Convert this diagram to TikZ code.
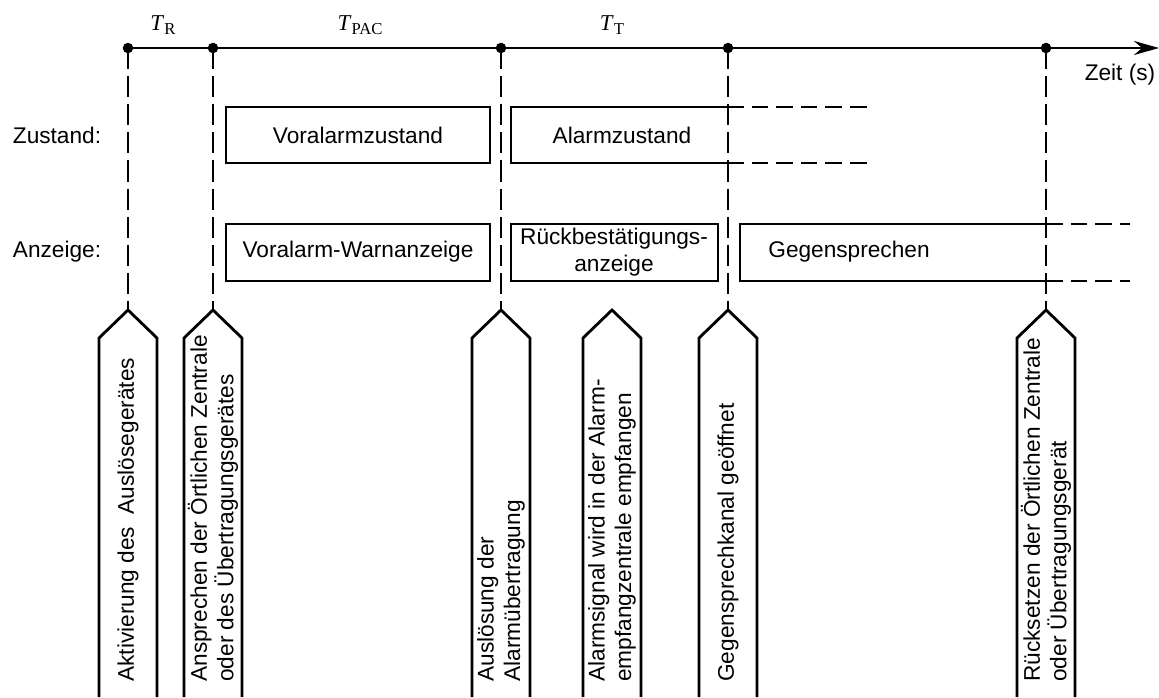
\documentclass[tikz,border=0pt]{standalone}
\usepackage{fontspec}
\setmainfont{Liberation Sans}
\newfontfamily\seriffont{Liberation Serif}
\usetikzlibrary{arrows.meta}
\newcommand{\tsym}[1]{{\seriffont\textit{T}\raisebox{-0.45ex}{\fontsize{9.5}{9.5}\selectfont #1}}}
\tikzset{
	box/.style={line width=1.6pt},
	openend/.style={line width=1.6pt, dash pattern=on 9.5pt off 4.5pt},
	guide/.style={line width=1.2pt, dash pattern=on 12pt off 4pt},
	tag/.style={rotate=90, anchor=west, align=left, inner sep=0pt},
}
\begin{document}
\begin{tikzpicture}[x=0.02cm, y=-0.02cm, font=\fontsize{12.9}{15}\selectfont, line join=miter]
		\useasboundingbox (0,0) rectangle (1159,697);
		% time axis
		\coordinate (t1) at (128,48);
		\coordinate (t2) at (213,48);
		\coordinate (t3) at (501,48);
		\coordinate (t4) at (728,48);
		\coordinate (t5) at (1046,48);
		\draw[box, -{Stealth[length=5mm, width=2.8mm]}] (t1) -- (1159,48);
		\foreach \i in {1,...,5} \fill (t\i) circle (3pt);
		\node (tr) at (163,25) {\tsym{R}};
		\node (tpac) at (360,25) {\tsym{PAC}};
		\node (tt) at (612,25) {\tsym{T}};
		\node (zeit) at (1120,75) {Zeit (s)};
		% rows
		\node (zst) at (57,135) {Zustand:};
		\node (anz) at (57,252) {Anzeige:};
		\draw[box] (226,107) rectangle (490,163);
		\node (vz) at (358,135) {Voralarmzustand};
		\draw[box] (727,107) -- (511,107) -- (511,163) -- (727,163);
		\draw[openend] (727,107) -- (870,107);
		\draw[openend] (727,163) -- (870,163);
		\node (az) at (622,135) {Alarmzustand};
		\draw[box] (226,224) rectangle (490,281);
		\node (vw) at (358,252) {Voralarm-Warnanzeige};
		\draw[box] (511,224) rectangle (718,281);
		\node[align=center, inner sep=0pt] (rb) at (614,252) {Rückbestätigungs-\\anzeige};
		\draw[box] (1046,224) -- (740,224) -- (740,281) -- (1046,281);
		\draw[openend] (1046,224) -- (1130,224);
		\draw[openend] (1046,281) -- (1130,281);
		\node (gs) at (849,252) {Gegensprechen};
		% event tags
		\foreach \x/\txt in {128/{Aktivierung des\ \ Auslösegerätes},
				213/{Ansprechen der Örtlichen Zentrale\\ oder des Übertragungsgerätes},
				501/{Auslösung der\\Alarmübertragung},
				612/{Alarmsignal wird in der Alarm-\\empfangzentrale empfangen},
				728/{Gegensprechkanal geöffnet},
				1046/{Rücksetzen der Örtlichen Zentrale\\oder Übertragungsgerät}} {
			\draw[box] (\x-29,697) -- (\x-29,338) -- (\x,310) coordinate (p\x) -- (\x+29,338) -- (\x+29,697);
			\node[tag] (ev\x) at (\x,682) {\txt};
		}
		\draw[guide] (t1) -- (p128);
		\draw[guide] (t2) -- (p213);
		\draw[guide] (t3) -- (p501);
		\draw[guide] (t4) -- (p728);
		\draw[guide] (t5) -- (p1046);
	\end{tikzpicture}
\end{document}
